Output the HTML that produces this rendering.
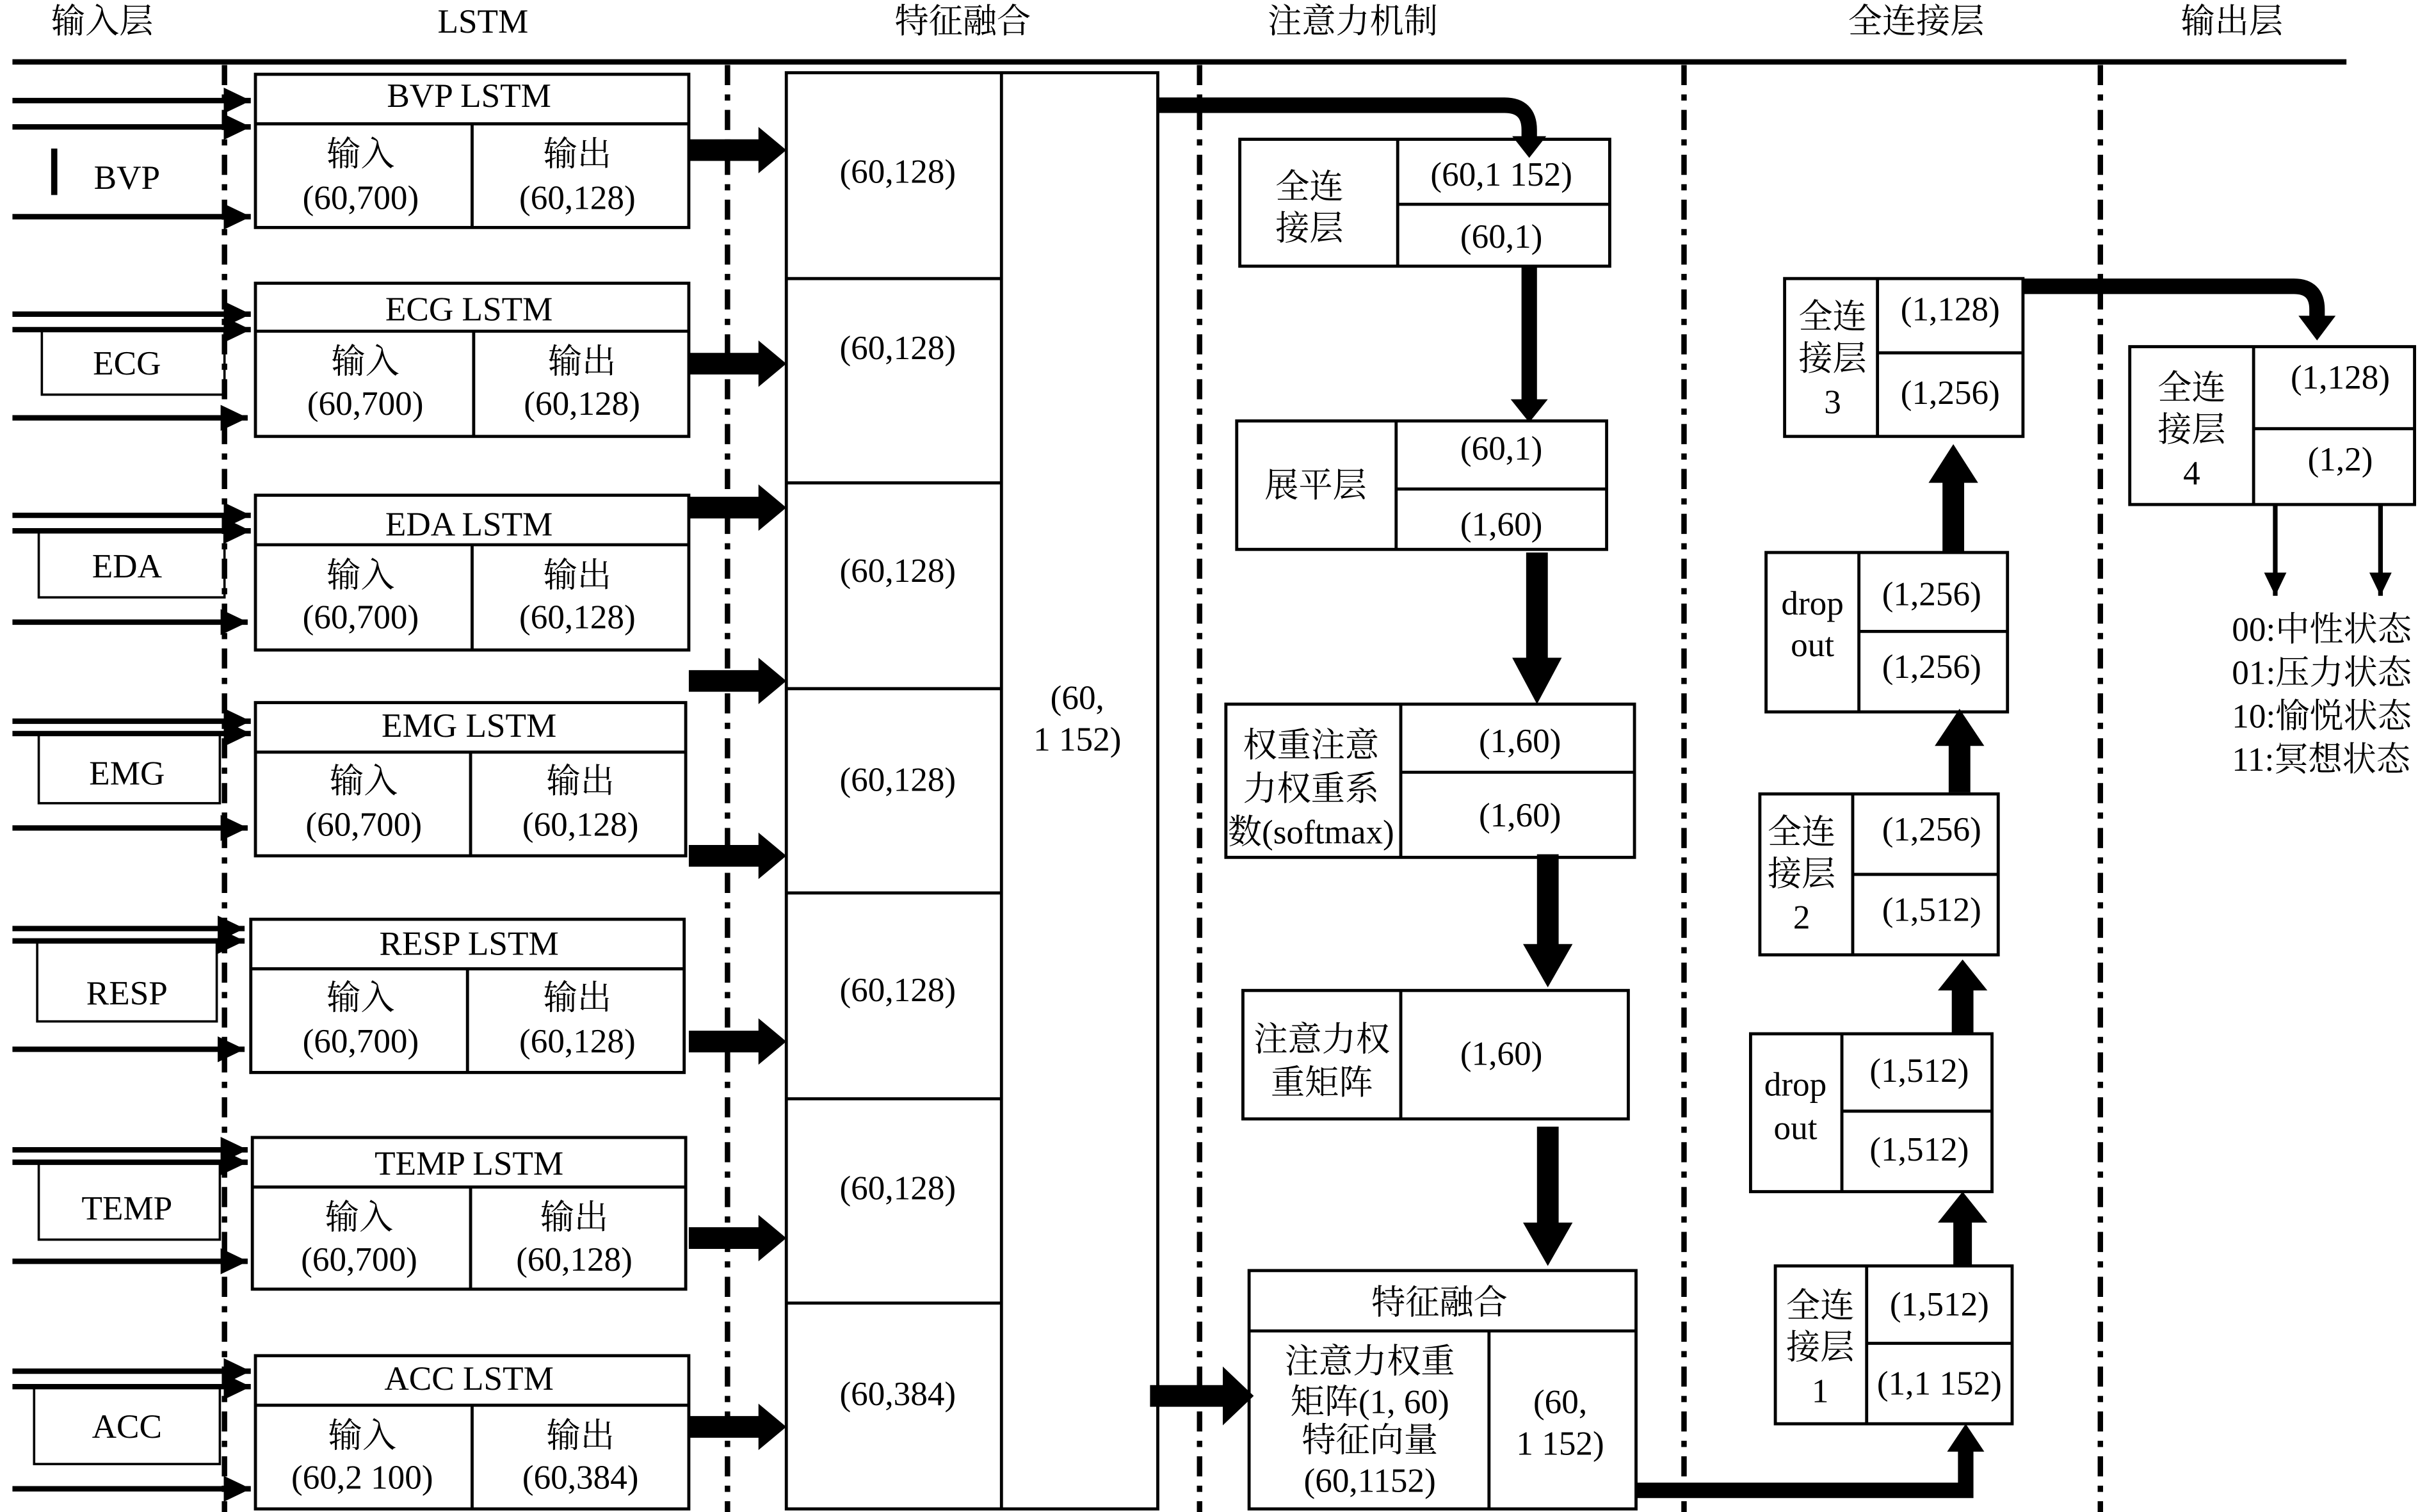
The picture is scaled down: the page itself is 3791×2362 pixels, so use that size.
<!DOCTYPE html>
<html><head><meta charset="utf-8"><style>
html,body{margin:0;padding:0;background:#fff}
svg{display:block}
text{font-family:"Liberation Serif","Noto Serif CJK SC",serif;font-size:22px;fill:#000;text-anchor:middle}
text.l{text-anchor:start}
</style></head><body>
<svg width="3791" height="2362" viewBox="0 0 1568 977" xmlns="http://www.w3.org/2000/svg">
<defs>
<marker id="ah" markerWidth="6" markerHeight="6" refX="5" refY="3" orient="auto" markerUnits="strokeWidth">
<path d="M0,0.6 L5,3 L0,5.4 Z" fill="#000"/></marker>
</defs>
<!-- headers -->
<text x="66" y="21">输入层</text>
<text x="312" y="21">LSTM</text>
<text x="622" y="21">特征融合</text>
<text x="874" y="21">注意力机制</text>
<text x="1238" y="21">全连接层</text>
<text x="1442" y="21">输出层</text>
<line x1="8" y1="40" x2="1516" y2="40" stroke="#000" stroke-width="3.5"/>
<!-- dash-dot separators -->
<g stroke="#000" stroke-width="3.5" stroke-dasharray="13 6 4 6">
<line x1="145" y1="42" x2="145" y2="977"/>
<line x1="470" y1="42" x2="470" y2="977"/>
<line x1="775" y1="42" x2="775" y2="977"/>
<line x1="1088" y1="42" x2="1088" y2="977"/>
<line x1="1357" y1="42" x2="1357" y2="977"/>
</g>
<!-- input arrows -->
<g stroke="#000" stroke-width="3.5" marker-end="url(#ah)">
<line x1="8" y1="65" x2="162" y2="65"/><line x1="8" y1="82" x2="162" y2="82"/><line x1="8" y1="140" x2="162" y2="140"/>
<line x1="8" y1="203" x2="162" y2="203"/><line x1="8" y1="213" x2="162" y2="213"/><line x1="8" y1="270" x2="160" y2="270"/>
<line x1="8" y1="333" x2="162" y2="333"/><line x1="8" y1="343" x2="162" y2="343"/><line x1="8" y1="402" x2="160" y2="402"/>
<line x1="8" y1="466" x2="162" y2="466"/><line x1="8" y1="474" x2="162" y2="474"/><line x1="8" y1="535" x2="160" y2="535"/>
<line x1="8" y1="600" x2="158" y2="600"/><line x1="8" y1="608" x2="158" y2="608"/><line x1="8" y1="678" x2="158" y2="678"/>
<line x1="8" y1="743" x2="160" y2="743"/><line x1="8" y1="751" x2="160" y2="751"/><line x1="8" y1="815" x2="160" y2="815"/>
<line x1="8" y1="886" x2="162" y2="886"/><line x1="8" y1="896" x2="162" y2="896"/><line x1="8" y1="962" x2="162" y2="962"/>
</g>
<g fill="none" stroke="#000" stroke-width="1.5">
<rect x="27" y="213" width="118" height="42"/>
<rect x="25" y="343" width="120" height="43"/>
<rect x="25" y="474" width="117" height="45"/>
<rect x="24" y="608" width="116" height="52"/>
<rect x="25" y="751" width="117" height="50"/>
<rect x="22" y="896" width="120" height="50"/>
</g>
<rect x="33" y="96" width="4" height="30" fill="#000"/>
<text x="82" y="122">BVP</text>
<text x="82" y="242">ECG</text>
<text x="82" y="373">EDA</text>
<text x="82" y="507">EMG</text>
<text x="82" y="649">RESP</text>
<text x="82" y="788">TEMP</text>
<text x="82" y="929">ACC</text>
<!-- LSTM boxes -->
<g fill="none" stroke="#000" stroke-width="2">
<rect x="165" y="48" width="280" height="99"/><line x1="165" y1="80" x2="445" y2="80"/><line x1="305" y1="80" x2="305" y2="147"/>
<rect x="165" y="183" width="280" height="99"/><line x1="165" y1="214" x2="445" y2="214"/><line x1="306" y1="214" x2="306" y2="282"/>
<rect x="165" y="320" width="280" height="100"/><line x1="165" y1="352" x2="445" y2="352"/><line x1="305" y1="352" x2="305" y2="420"/>
<rect x="165" y="454" width="278" height="99"/><line x1="165" y1="486" x2="443" y2="486"/><line x1="304" y1="486" x2="304" y2="553"/>
<rect x="162" y="594" width="280" height="99"/><line x1="162" y1="626" x2="442" y2="626"/><line x1="302" y1="626" x2="302" y2="693"/>
<rect x="163" y="735" width="280" height="98"/><line x1="163" y1="767" x2="443" y2="767"/><line x1="304" y1="767" x2="304" y2="833"/>
<rect x="165" y="876" width="280" height="99"/><line x1="165" y1="908" x2="445" y2="908"/><line x1="305" y1="908" x2="305" y2="975"/>
</g>
<text x="303" y="69">BVP LSTM</text>
<text x="233" y="107">输入</text><text x="233" y="135">(60,700)</text>
<text x="373" y="107">输出</text><text x="373" y="135">(60,128)</text>
<text x="303" y="207">ECG LSTM</text>
<text x="236" y="241">输入</text><text x="236" y="268">(60,700)</text>
<text x="376" y="241">输出</text><text x="376" y="268">(60,128)</text>
<text x="303" y="346">EDA LSTM</text>
<text x="233" y="379">输入</text><text x="233" y="406">(60,700)</text>
<text x="373" y="379">输出</text><text x="373" y="406">(60,128)</text>
<text x="303" y="476">EMG LSTM</text>
<text x="235" y="512">输入</text><text x="235" y="540">(60,700)</text>
<text x="375" y="512">输出</text><text x="375" y="540">(60,128)</text>
<text x="303" y="617">RESP LSTM</text>
<text x="233" y="652">输入</text><text x="233" y="680">(60,700)</text>
<text x="373" y="652">输出</text><text x="373" y="680">(60,128)</text>
<text x="303" y="759">TEMP LSTM</text>
<text x="232" y="794">输入</text><text x="232" y="821">(60,700)</text>
<text x="371" y="794">输出</text><text x="371" y="821">(60,128)</text>
<text x="303" y="898">ACC LSTM</text>
<text x="234" y="935">输入</text><text x="234" y="962">(60,2 100)</text>
<text x="375" y="935">输出</text><text x="375" y="962">(60,384)</text>
<!-- block arrows to fusion -->
<g fill="#000">
<path d="M445,90 H490 V82 L508,97 L490,112 V104 H445 Z"/>
<path d="M445,228 H490 V220 L508,235 L490,250 V242 H445 Z"/>
<path d="M445,321 H490 V313 L508,328 L490,343 V335 H445 Z"/>
<path d="M445,433 H490 V425 L508,440 L490,455 V447 H445 Z"/>
<path d="M445,546 H490 V538 L508,553 L490,568 V560 H445 Z"/>
<path d="M445,666 H490 V658 L508,673 L490,688 V680 H445 Z"/>
<path d="M445,793 H490 V785 L508,800 L490,815 V807 H445 Z"/>
<path d="M445,915 H490 V907 L508,922 L490,937 V929 H445 Z"/>
</g>
<!-- fusion column -->
<g fill="none" stroke="#000" stroke-width="2">
<rect x="508" y="47" width="240" height="928"/>
<line x1="647" y1="47" x2="647" y2="975"/>
<line x1="508" y1="180" x2="647" y2="180"/><line x1="508" y1="312" x2="647" y2="312"/>
<line x1="508" y1="445" x2="647" y2="445"/><line x1="508" y1="577" x2="647" y2="577"/>
<line x1="508" y1="710" x2="647" y2="710"/><line x1="508" y1="842" x2="647" y2="842"/>
</g>
<text x="580" y="118">(60,128)</text>
<text x="580" y="232">(60,128)</text>
<text x="580" y="376">(60,128)</text>
<text x="580" y="511">(60,128)</text>
<text x="580" y="647">(60,128)</text>
<text x="580" y="775">(60,128)</text>
<text x="580" y="908">(60,384)</text>
<text x="696" y="458">(60,</text>
<text x="696" y="485">1 152)</text>
<!-- attention -->
<path d="M748,68 H972 Q988,68 988,84 V92" fill="none" stroke="#000" stroke-width="10"/>
<path d="M977,88 L999,88 L988,102 Z" fill="#000"/>
<g fill="none" stroke="#000" stroke-width="2">
<rect x="801" y="90" width="239" height="82"/><line x1="903" y1="90" x2="903" y2="172"/><line x1="903" y1="132" x2="1040" y2="132"/>
<rect x="799" y="272" width="239" height="83"/><line x1="902" y1="272" x2="902" y2="355"/><line x1="902" y1="316" x2="1038" y2="316"/>
<rect x="792" y="455" width="264" height="99"/><line x1="905" y1="455" x2="905" y2="554"/><line x1="905" y1="499" x2="1056" y2="499"/>
<rect x="803" y="640" width="249" height="83"/><line x1="905" y1="640" x2="905" y2="723"/>
<rect x="807" y="821" width="250" height="154"/><line x1="807" y1="860" x2="1057" y2="860"/><line x1="962" y1="860" x2="962" y2="975"/>
</g>
<text x="846" y="128">全连</text><text x="846" y="155">接层</text>
<text x="970" y="120">(60,1 152)</text><text x="970" y="160">(60,1)</text>
<text x="850" y="321">展平层</text>
<text x="970" y="297">(60,1)</text><text x="970" y="346">(1,60)</text>
<text x="847" y="489">权重注意</text><text x="847" y="517">力权重系</text><text x="847" y="545">数(softmax)</text>
<text x="982" y="486">(1,60)</text><text x="982" y="534">(1,60)</text>
<text x="854" y="679">注意力权</text><text x="854" y="707">重矩阵</text>
<text x="970" y="688">(1,60)</text>
<text x="930" y="849">特征融合</text>
<text x="885" y="887">注意力权重</text><text x="885" y="913">矩阵(1, 60)</text><text x="885" y="938">特征向量</text><text x="885" y="964">(60,1152)</text>
<text x="1008" y="913">(60,</text><text x="1008" y="940">1 152)</text>
<!-- vertical arrows in attention -->
<g fill="#000">
<rect x="983" y="172" width="10" height="88"/><path d="M976,258 L1000,258 L988,273 Z"/>
<path d="M986,357 H1000 V425 H1009 L993,455 L977,425 H986 Z"/>
<path d="M993,552 H1007 V610 H1016 L1000,638 L984,610 H993 Z"/>
<path d="M993,728 H1007 V790 H1016 L1000,818 L984,790 H993 Z"/>
<path d="M743,895 H790 V883 L810,902 L790,921 V909 H743 Z"/>
</g>
<!-- to FC1 -->
<path d="M1057,963 H1270 V935" fill="none" stroke="#000" stroke-width="10"/>
<path d="M1258,938 L1282,938 L1270,920 Z" fill="#000"/>
<!-- FC column -->
<g fill="none" stroke="#000" stroke-width="2">
<rect x="1147" y="818" width="153" height="102"/><line x1="1206" y1="818" x2="1206" y2="920"/><line x1="1206" y1="868" x2="1300" y2="868"/>
<rect x="1131" y="668" width="156" height="102"/><line x1="1190" y1="668" x2="1190" y2="770"/><line x1="1190" y1="718" x2="1287" y2="718"/>
<rect x="1137" y="513" width="154" height="104"/><line x1="1197" y1="513" x2="1197" y2="617"/><line x1="1197" y1="565" x2="1291" y2="565"/>
<rect x="1141" y="357" width="156" height="103"/><line x1="1201" y1="357" x2="1201" y2="460"/><line x1="1201" y1="408" x2="1297" y2="408"/>
<rect x="1153" y="180" width="154" height="102"/><line x1="1213" y1="180" x2="1213" y2="282"/><line x1="1213" y1="228" x2="1307" y2="228"/>
<rect x="1376" y="224" width="184" height="102"/><line x1="1456" y1="224" x2="1456" y2="326"/><line x1="1456" y1="277" x2="1560" y2="277"/>
</g>
<text x="1176" y="851">全连</text><text x="1176" y="878">接层</text><text x="1176" y="906">1</text>
<text x="1253" y="850">(1,512)</text><text x="1253" y="901">(1,1 152)</text>
<text x="1160" y="708">drop</text><text x="1160" y="736">out</text>
<text x="1240" y="699">(1,512)</text><text x="1240" y="750">(1,512)</text>
<text x="1164" y="545">全连</text><text x="1164" y="572">接层</text><text x="1164" y="600">2</text>
<text x="1248" y="543">(1,256)</text><text x="1248" y="595">(1,512)</text>
<text x="1171" y="397">drop</text><text x="1171" y="424">out</text>
<text x="1248" y="391">(1,256)</text><text x="1248" y="438">(1,256)</text>
<text x="1184" y="212">全连</text><text x="1184" y="239">接层</text><text x="1184" y="267">3</text>
<text x="1260" y="207">(1,128)</text><text x="1260" y="261">(1,256)</text>
<text x="1416" y="258">全连</text><text x="1416" y="285">接层</text><text x="1416" y="313">4</text>
<text x="1512" y="251">(1,128)</text><text x="1512" y="304">(1,2)</text>
<g fill="#000">
<path d="M1262,818 H1274 V790 H1284 L1268,770 L1252,790 H1262 Z"/>
<path d="M1261,668 H1275 V640 H1284 L1268,620 L1252,640 H1261 Z"/>
<path d="M1259,512 H1273 V482 H1282 L1266,458 L1250,482 H1259 Z"/>
<path d="M1255,357 H1269 V312 H1278 L1262,287 L1246,312 H1255 Z"/>
</g>
<path d="M1307,185 H1482 Q1497,185 1497,200 V206" fill="none" stroke="#000" stroke-width="10"/>
<path d="M1485,204 L1509,204 L1497,220 Z" fill="#000"/>
<g stroke="#000" stroke-width="3" marker-end="url(#ah)">
<line x1="1470" y1="326" x2="1470" y2="385"/>
<line x1="1538" y1="326" x2="1538" y2="385"/>
</g>
<text class="l" x="1442" y="414" style="text-anchor:start">00:中性状态</text>
<text class="l" x="1442" y="442" style="text-anchor:start">01:压力状态</text>
<text class="l" x="1442" y="470" style="text-anchor:start">10:愉悦状态</text>
<text class="l" x="1442" y="498" style="text-anchor:start">11:冥想状态</text>
</svg>
</body></html>
